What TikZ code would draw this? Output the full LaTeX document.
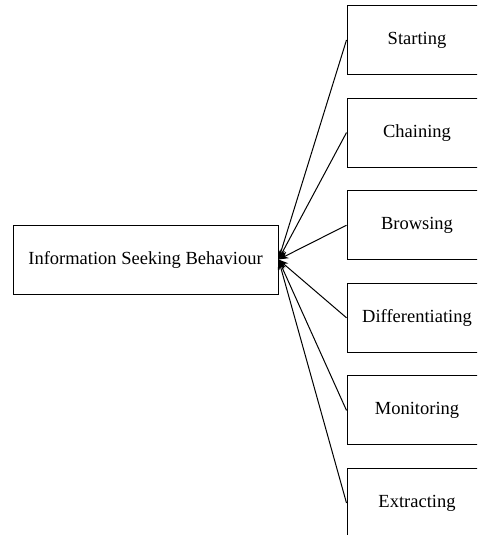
\documentclass[tikz,border=0pt]{standalone}
\usepackage{fontspec}
\setmainfont{Liberation Serif}
\usepackage{tikz}
\usetikzlibrary{positioning}
\usetikzlibrary{arrows.meta}

\begin{document}
\begin{tikzpicture}[
  behaviour/.style = {
    draw,
    rectangle,
    line width = 1pt,
    minimum width = 265pt,
    minimum height = 69pt,
    font = \fontsize{18.5pt}{22pt}\selectfont,
  },
  stage/.style = {
    draw,
    rectangle,
    line width = 1pt,
    minimum width = 140pt,
    minimum height = 69pt,
    font = \fontsize{18.5pt}{22pt}\selectfont,
  },
  link/.style = {
    draw,
    line width = 1pt,
  },
  >={Stealth[length=10pt,width=7pt]},
]

  \useasboundingbox (0pt,0pt) rectangle (477pt,-535pt);
  \clip (0pt,0pt) rectangle (477pt,-535pt);

  %
  \node[behaviour] (isb) at (145.5pt,-259.5pt) {Information Seeking Behaviour};

  %
  \node[stage] (s0) at (417pt,-40pt) {Starting};
  \node[stage] (s1) [below=22.6pt of s0] {Chaining};
  \node[stage] (s2) [below=22.6pt of s1] {Browsing};
  \node[stage] (s3) [below=22.6pt of s2] {Differentiating};
  \node[stage] (s4) [below=22.6pt of s3] {Monitoring};
  \node[stage] (s5) [below=22.6pt of s4] {Extracting};

  \path[link,->] (s0.west) -- (isb.east);
  \path[link,->] (s1.west) -- (isb.east);
  \path[link,->] (s2.west) -- (isb.east);
  \path[link,->] (s3.west) -- (isb.east);
  \path[link,->] (s4.west) -- (isb.east);
  \path[link,->] (s5.west) -- (isb.east);

\end{tikzpicture}
\end{document}
